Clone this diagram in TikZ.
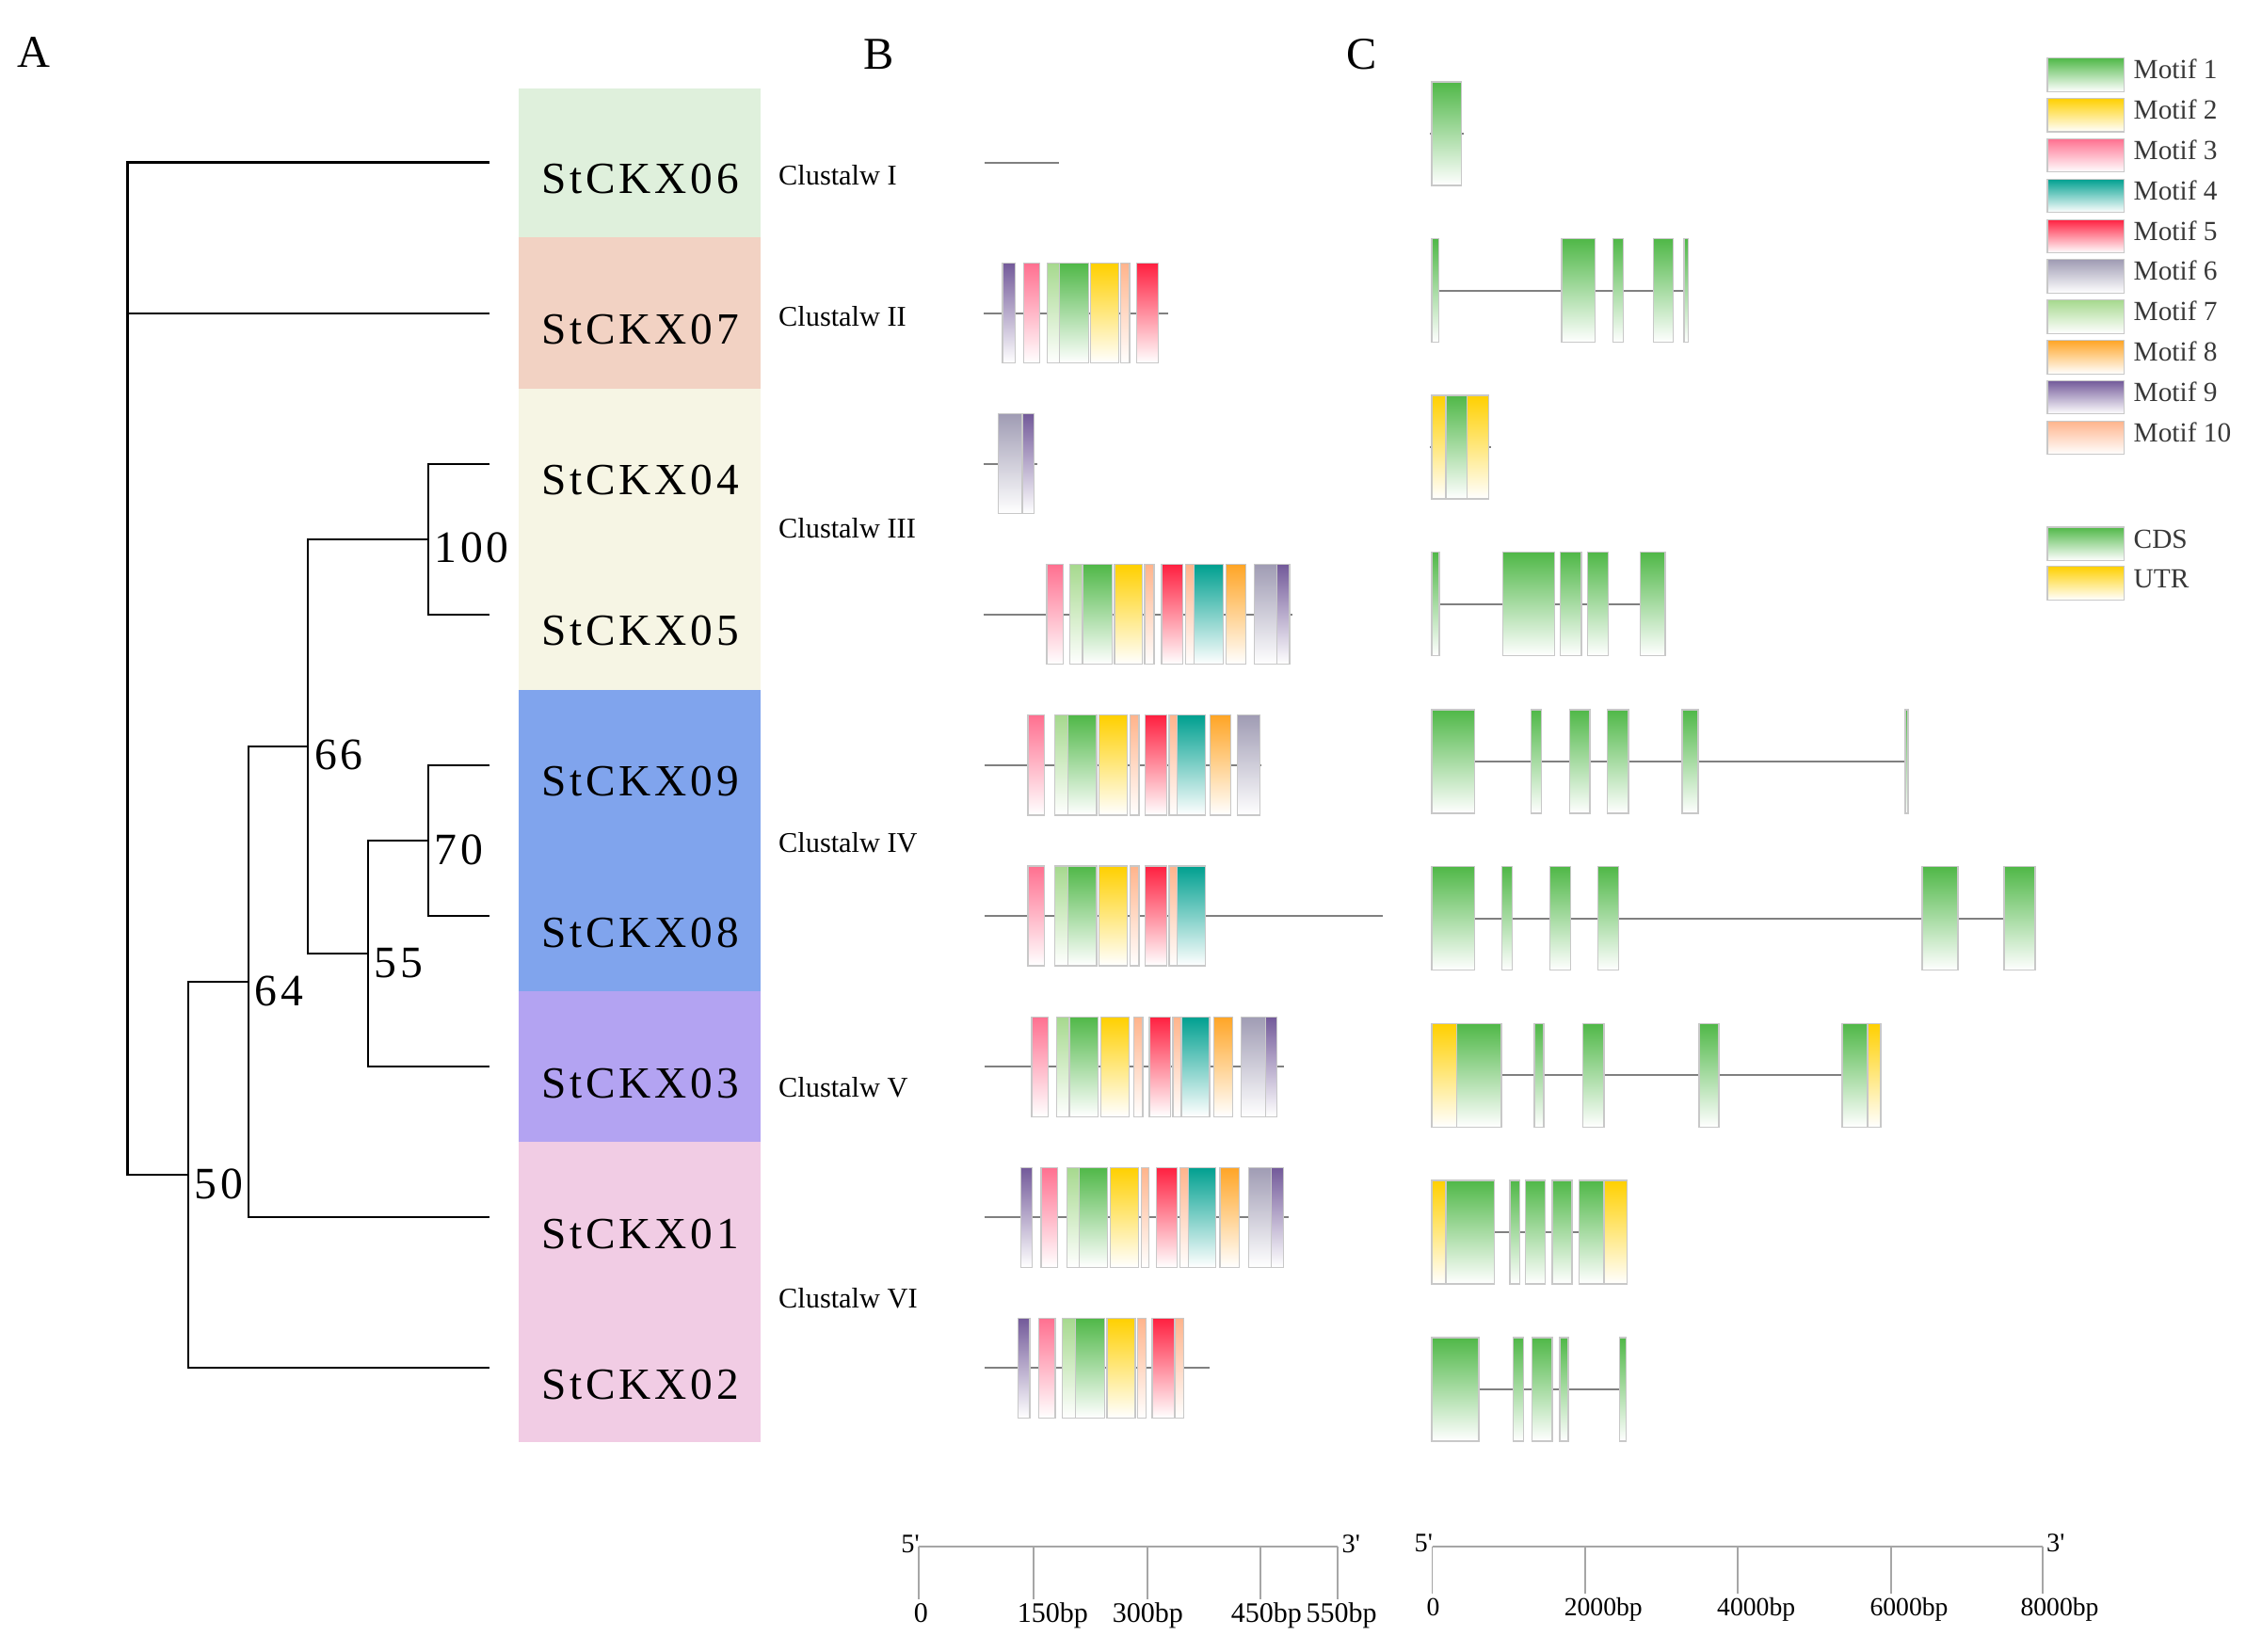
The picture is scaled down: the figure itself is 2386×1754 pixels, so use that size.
\documentclass[tikz,border=0pt]{standalone}
\usepackage{fontspec}
\setmainfont{Liberation Serif}
\newfontfamily\gfont[LetterSpace=8]{Liberation Serif}
\newfontfamily\nfont[LetterSpace=8]{Liberation Serif}
\definecolor{mA}{HTML}{50B848}
\definecolor{mB}{HTML}{FFD000}
\definecolor{mC}{HTML}{FF7090}
\definecolor{mD}{HTML}{00A090}
\definecolor{mE}{HTML}{FF2040}
\definecolor{mF}{HTML}{A09CB4}
\definecolor{mG}{HTML}{A6D98E}
\definecolor{mH}{HTML}{FFA526}
\definecolor{mI}{HTML}{735A9A}
\definecolor{mJ}{HTML}{FFB48C}
\definecolor{bgA}{HTML}{DFF0DC}
\definecolor{bgB}{HTML}{F2D2C3}
\definecolor{bgC}{HTML}{F6F5E4}
\definecolor{bgD}{HTML}{80A4ED}
\definecolor{bgE}{HTML}{B3A3F2}
\definecolor{bgF}{HTML}{F1CCE4}
\definecolor{olc}{HTML}{C8C8C8}
\definecolor{bbc}{HTML}{808080}
\definecolor{sbc}{HTML}{A6A6A6}
\definecolor{ltx}{HTML}{383838}
\newcommand\mbx[4]{\shade[top color=#1,bottom color=white] (#2,#4-53) rectangle (#3,#4+53);\draw[ol] (#2,#4-53) rectangle (#3,#4+53);}
\newcommand\cbx[4]{\shade[top color=#1,bottom color=white] (#2,#4-55) rectangle (#3,#4+55);\draw[ol] (#2,#4-55) rectangle (#3,#4+55);}
\newcommand\lbx[2]{\shade[top color=#1,bottom color=white] (2175,#2) rectangle (2256.7,#2+35.5);\draw[ol] (2175,#2) rectangle (2256.7,#2+35.5);}
\begin{document}
\begin{tikzpicture}[x=0.3pt,y=-0.3pt,
  tree/.style={line width=0.65pt,black},
  bb/.style={line width=0.6pt,bbc},
  ol/.style={draw=olc,line width=0.35pt},
  sbar/.style={draw=sbc,line width=0.5pt},
  panel/.style={inner sep=0,anchor=base west,font=\fontsize{14.5}{16}\selectfont},
  gene/.style={inner sep=0,anchor=base,font=\gfont\fontsize{14.2}{16}\selectfont},
  boot/.style={inner sep=0,anchor=base west,font=\nfont\fontsize{14.3}{16}\selectfont},
  clus/.style={inner sep=0,anchor=base west,font=\fontsize{9.1}{10}\selectfont},
  leg/.style={inner sep=0,anchor=base west,text=ltx,font=\fontsize{8.8}{10}\selectfont},
  sbl/.style={inner sep=0,anchor=base,font=\fontsize{9}{10}\selectfont},
  sbm/.style={inner sep=0,anchor=base,font=\fontsize{8.3}{9}\selectfont},
  pr/.style={inner sep=0,anchor=base west,font=\fontsize{8.5}{9}\selectfont}]
\useasboundingbox (0,0) rectangle (2386,1754);
% panel letters
\node[panel] (pA) at (18,71.4) {A};
\node[panel] (pB) at (917,73) {B};
\node[panel] (pC) at (1430,73) {C};
% coloured bands
\fill[bgA] (551.3,93.75) rectangle (807.7,252.2);
\fill[bgB] (551.3,252.2) rectangle (807.7,413);
\fill[bgC] (551.3,413) rectangle (807.7,733.3);
\fill[bgD] (551.3,733.3) rectangle (807.7,1053);
\fill[bgE] (551.3,1053) rectangle (807.7,1212.6);
\fill[bgF] (551.3,1212.6) rectangle (807.7,1532.4);
% gene labels
\node[gene] (g06) at (680,205.5) {StCKX06};
\node[gene] (g07) at (680,365.6) {StCKX07};
\node[gene] (g04) at (680,525.7) {StCKX04};
\node[gene] (g05) at (680,685.8) {StCKX05};
\node[gene] (g09) at (680,845.9) {StCKX09};
\node[gene] (g08) at (680,1006) {StCKX08};
\node[gene] (g03) at (680,1166.1) {StCKX03};
\node[gene] (g01) at (680,1326.2) {StCKX01};
\node[gene] (g02) at (680,1486.3) {StCKX02};
% tree
\coordinate (l06) at (520.3,172.5);
\coordinate (l07) at (520.3,332.6);
\coordinate (l04) at (520.3,492.7);
\coordinate (l05) at (520.3,652.8);
\coordinate (l09) at (520.3,812.9);
\coordinate (l08) at (520.3,973);
\coordinate (l03) at (520.3,1133.1);
\coordinate (l01) at (520.3,1293.2);
\coordinate (l02) at (520.3,1453.3);
\coordinate (n100) at (455.3,572.75);
\coordinate (n70) at (455.3,892.95);
\coordinate (n55) at (391.3,1013.0);
\coordinate (n66) at (327.4,792.9);
\coordinate (n64) at (264,1043.05);
\coordinate (n50) at (200,1248.2);
\coordinate (root) at (135.5,710);
\draw[tree] (l04) -| (n100) |- (l05);
\draw[tree] (l09) -| (n70) |- (l08);
\draw[tree] (n70) -- (n70 -| n55) -- (n55 |- l03) -- (l03);
\draw[tree] (n100) -| (n66) |- (n55);
\draw[tree] (n66) -| (n64) |- (l01);
\draw[tree] (n64) -| (n50) |- (l02);
\draw[tree] (l06) -| (root |- n50) -- (n50);
\draw[tree] (l07) -- (l07 -| root);
% bootstrap values
\node[boot] (b100) at (461,597.8) {100};
\node[boot] (b66) at (333.4,817.9) {66};
\node[boot] (b70) at (461,918) {70};
\node[boot] (b55) at (397.3,1038) {55};
\node[boot] (b64) at (270,1068) {64};
\node[boot] (b50) at (206,1273.2) {50};
% clustal labels
\node[clus] (c1) at (826.5,196.4) {Clustalw I};
\node[clus] (c2) at (826.5,346) {Clustalw II};
\node[clus] (c3) at (826.5,571) {Clustalw III};
\node[clus] (c4) at (826.5,905.5) {Clustalw IV};
\node[clus] (c5) at (826.5,1165) {Clustalw V};
\node[clus] (c6) at (826.5,1389) {Clustalw VI};
% ---------- B motifs ----------
\draw[bb] (1045.5,172.5) -- (1124.5,172.5);
\draw[bb] (1045,332.6) -- (1240.7,332.6);
\mbx{mI}{1065}{1078.3}{332.6}
\mbx{mC}{1087.3}{1104.3}{332.6}
\mbx{mG}{1112.3}{1125.7}{332.6}
\mbx{mA}{1125.7}{1156.7}{332.6}
\mbx{mB}{1158.7}{1188.7}{332.6}
\mbx{mJ}{1190.7}{1200}{332.6}
\mbx{mE}{1207.3}{1230.7}{332.6}
\draw[bb] (1045,492.7) -- (1101.7,492.7);
\mbx{mF}{1060.3}{1086}{492.7}
\mbx{mI}{1086}{1098.3}{492.7}
\draw[bb] (1045,652.8) -- (1373.3,652.8);
\mbx{mC}{1112}{1129.3}{652.8}
\mbx{mG}{1136.7}{1150}{652.8}
\mbx{mA}{1150}{1181.7}{652.8}
\mbx{mB}{1184}{1213.3}{652.8}
\mbx{mJ}{1216}{1226}{652.8}
\mbx{mE}{1234}{1256.7}{652.8}
\mbx{mJ}{1259.3}{1268.3}{652.8}
\mbx{mD}{1268.3}{1299.3}{652.8}
\mbx{mH}{1302.7}{1323.3}{652.8}
\mbx{mF}{1332.7}{1356.7}{652.8}
\mbx{mI}{1356.7}{1370}{652.8}
\draw[bb] (1046,812.9) -- (1340,812.9);
\mbx{mC}{1092}{1109.3}{812.9}
\mbx{mG}{1120.7}{1134.3}{812.9}
\mbx{mA}{1134.3}{1165}{812.9}
\mbx{mB}{1167.7}{1197.3}{812.9}
\mbx{mJ}{1200.7}{1210}{812.9}
\mbx{mE}{1216.7}{1239.3}{812.9}
\mbx{mJ}{1242}{1250.7}{812.9}
\mbx{mD}{1250.7}{1280.7}{812.9}
\mbx{mH}{1285.7}{1307.3}{812.9}
\mbx{mF}{1314.3}{1338.3}{812.9}
\draw[bb] (1046,973) -- (1468.5,973);
\mbx{mC}{1092}{1109.3}{973}
\mbx{mG}{1120.7}{1134.3}{973}
\mbx{mA}{1134.3}{1165}{973}
\mbx{mB}{1167.7}{1197.3}{973}
\mbx{mJ}{1200.7}{1210}{973}
\mbx{mE}{1216.7}{1239.3}{973}
\mbx{mJ}{1242}{1250.7}{973}
\mbx{mD}{1250.7}{1280.7}{973}
\draw[bb] (1046,1133.1) -- (1364.3,1133.1);
\mbx{mC}{1096}{1113.3}{1133.1}
\mbx{mG}{1122.3}{1136}{1133.1}
\mbx{mA}{1136}{1166.7}{1133.1}
\mbx{mB}{1169.3}{1199.3}{1133.1}
\mbx{mJ}{1204.7}{1214}{1133.1}
\mbx{mE}{1221}{1243.3}{1133.1}
\mbx{mJ}{1246}{1255}{1133.1}
\mbx{mD}{1255}{1285}{1133.1}
\mbx{mH}{1289.3}{1309.3}{1133.1}
\mbx{mF}{1318.7}{1344.3}{1133.1}
\mbx{mI}{1344.3}{1356.7}{1133.1}
\draw[bb] (1046,1293.2) -- (1369.3,1293.2);
\mbx{mI}{1084.3}{1096.7}{1293.2}
\mbx{mC}{1106}{1123.3}{1293.2}
\mbx{mG}{1133.3}{1146.7}{1293.2}
\mbx{mA}{1146.7}{1176.7}{1293.2}
\mbx{mB}{1179.3}{1209.3}{1293.2}
\mbx{mJ}{1212.7}{1220.7}{1293.2}
\mbx{mE}{1228.3}{1250.7}{1293.2}
\mbx{mJ}{1253.3}{1262.7}{1293.2}
\mbx{mD}{1262.7}{1291.7}{1293.2}
\mbx{mH}{1296}{1316.7}{1293.2}
\mbx{mF}{1326.7}{1350.7}{1293.2}
\mbx{mI}{1350.7}{1363.3}{1293.2}
\draw[bb] (1046,1453.3) -- (1285,1453.3);
\mbx{mI}{1081.7}{1094}{1453.3}
\mbx{mC}{1103.3}{1121}{1453.3}
\mbx{mG}{1128.7}{1142.7}{1453.3}
\mbx{mA}{1142.7}{1173.3}{1453.3}
\mbx{mB}{1176}{1206}{1453.3}
\mbx{mJ}{1208.3}{1217.3}{1453.3}
\mbx{mE}{1224}{1247.3}{1453.3}
\mbx{mJ}{1248.3}{1257.7}{1453.3}
% ---------- C gene structures ----------
\draw[bb] (1519,142) -- (1555,142);
\cbx{mA}{1521}{1552.7}{142}
\draw[bb] (1521,308.7) -- (1793.7,308.7);
\cbx{mA}{1521}{1528.3}{308.7}
\cbx{mA}{1659}{1694.3}{308.7}
\cbx{mA}{1713.3}{1724.3}{308.7}
\cbx{mA}{1756.7}{1777.7}{308.7}
\cbx{mA}{1789}{1793.7}{308.7}
\draw[bb] (1519,475) -- (1584,475);
\cbx{mB}{1521}{1536}{475}
\cbx{mA}{1536}{1558.3}{475}
\cbx{mB}{1558.3}{1581.7}{475}
\draw[bb] (1521,641.7) -- (1769,641.7);
\cbx{mA}{1521}{1529}{641.7}
\cbx{mA}{1596.7}{1651.7}{641.7}
\cbx{mA}{1657.3}{1680}{641.7}
\cbx{mA}{1686.7}{1708.3}{641.7}
\cbx{mA}{1742.3}{1769}{641.7}
\draw[bb] (1521,809) -- (2027,809);
\cbx{mA}{1521}{1566.7}{809}
\cbx{mA}{1626.7}{1637.7}{809}
\cbx{mA}{1667.7}{1689}{809}
\cbx{mA}{1707.7}{1730}{809}
\cbx{mA}{1787}{1804}{809}
\cbx{mA}{2024}{2027}{809}
\draw[bb] (1521,975.7) -- (2162,975.7);
\cbx{mA}{1521}{1566.7}{975.7}
\cbx{mA}{1595.7}{1606.7}{975.7}
\cbx{mA}{1646.7}{1668.3}{975.7}
\cbx{mA}{1697.7}{1719.3}{975.7}
\cbx{mA}{2042}{2080}{975.7}
\cbx{mA}{2129}{2162}{975.7}
\draw[bb] (1521,1142.3) -- (1998,1142.3);
\cbx{mB}{1521}{1547.7}{1142.3}
\cbx{mA}{1547.7}{1595}{1142.3}
\cbx{mA}{1630}{1640}{1142.3}
\cbx{mA}{1681.7}{1704}{1142.3}
\cbx{mA}{1805}{1826}{1142.3}
\cbx{mA}{1957}{1984}{1142.3}
\cbx{mB}{1984}{1998}{1142.3}
\draw[bb] (1521,1309) -- (1728.3,1309);
\cbx{mB}{1521}{1536}{1309}
\cbx{mA}{1536}{1587.7}{1309}
\cbx{mA}{1604}{1614.3}{1309}
\cbx{mA}{1620.3}{1641.7}{1309}
\cbx{mA}{1649}{1670}{1309}
\cbx{mA}{1677.7}{1704}{1309}
\cbx{mB}{1704}{1728.3}{1309}
\draw[bb] (1521,1476) -- (1727.7,1476);
\cbx{mA}{1521}{1571}{1476}
\cbx{mA}{1607.7}{1618.3}{1476}
\cbx{mA}{1627.7}{1649}{1476}
\cbx{mA}{1657}{1666}{1476}
\cbx{mA}{1720.7}{1727.7}{1476}
% ---------- legend ----------
\lbx{mA}{61.7}   \node[leg] (t1) at (2266,83.7) {Motif 1};
\lbx{mB}{104.5}  \node[leg] (t2) at (2266,126.5) {Motif 2};
\lbx{mC}{147.4}  \node[leg] (t3) at (2266,169.4) {Motif 3};
\lbx{mD}{190.2}  \node[leg] (t4) at (2266,212.2) {Motif 4};
\lbx{mE}{233.1}  \node[leg] (t5) at (2266,255.1) {Motif 5};
\lbx{mF}{275.9}  \node[leg] (t6) at (2266,297.9) {Motif 6};
\lbx{mG}{318.7}  \node[leg] (t7) at (2266,340.7) {Motif 7};
\lbx{mH}{361.6}  \node[leg] (t8) at (2266,383.6) {Motif 8};
\lbx{mI}{404.4}  \node[leg] (t9) at (2266,426.4) {Motif 9};
\lbx{mJ}{447.3}  \node[leg] (t10) at (2266,469.3) {Motif 10};
\lbx{mA}{560}    \node[leg] (tc) at (2266,582.3) {CDS};
\lbx{mB}{601.7}  \node[leg] (tu) at (2266,624) {UTR};
% ---------- scale bars ----------
\coordinate (s0) at (976,1642.7);
\coordinate (s1) at (1097.7,1642.7);
\coordinate (s2) at (1218.7,1642.7);
\coordinate (s3) at (1339.3,1642.7);
\coordinate (s4) at (1420.7,1642.7);
\draw[sbar] (s0) -- (s4);
\foreach \s in {s0,s1,s2,s3,s4} \draw[sbar] (\s) -- ++(0,56.6);
\node[pr] (p5b) at (956.7,1649) {5\textquotesingle};
\node[pr] (p3b) at (1425,1649) {3\textquotesingle};
\node[sbl] (lb0) at (978.3,1723.3) {0};
\node[sbl] (lb1) at (1118.3,1723.3) {150bp};
\node[sbl] (lb2) at (1219.3,1723.3) {300bp};
\node[sbl] (lb3) at (1345.3,1723.3) {450bp};
\node[sbl] (lb4) at (1425,1723.3) {550bp};
\coordinate (t0) at (1521.5,1643);
\coordinate (t1c) at (1683.9,1643);
\coordinate (t2c) at (1846.3,1643);
\coordinate (t3c) at (2008.7,1643);
\coordinate (t4c) at (2170,1643);
\draw[sbar] (t0) -- (t4c);
\foreach \s in {t0,t1c,t2c,t3c,t4c} \draw[sbar] (\s) -- ++(0,50);
\node[pr] (p5c) at (1502,1648) {5\textquotesingle};
\node[pr] (p3c) at (2173.5,1648) {3\textquotesingle};
\node[sbm] (lc0) at (1522.5,1716.7) {0};
\node[sbm] (lc1) at (1703.3,1716.7) {2000bp};
\node[sbm] (lc2) at (1865.7,1716.7) {4000bp};
\node[sbm] (lc3) at (2028,1716.7) {6000bp};
\node[sbm] (lc4) at (2188,1716.7) {8000bp};
\end{tikzpicture}
\end{document}
